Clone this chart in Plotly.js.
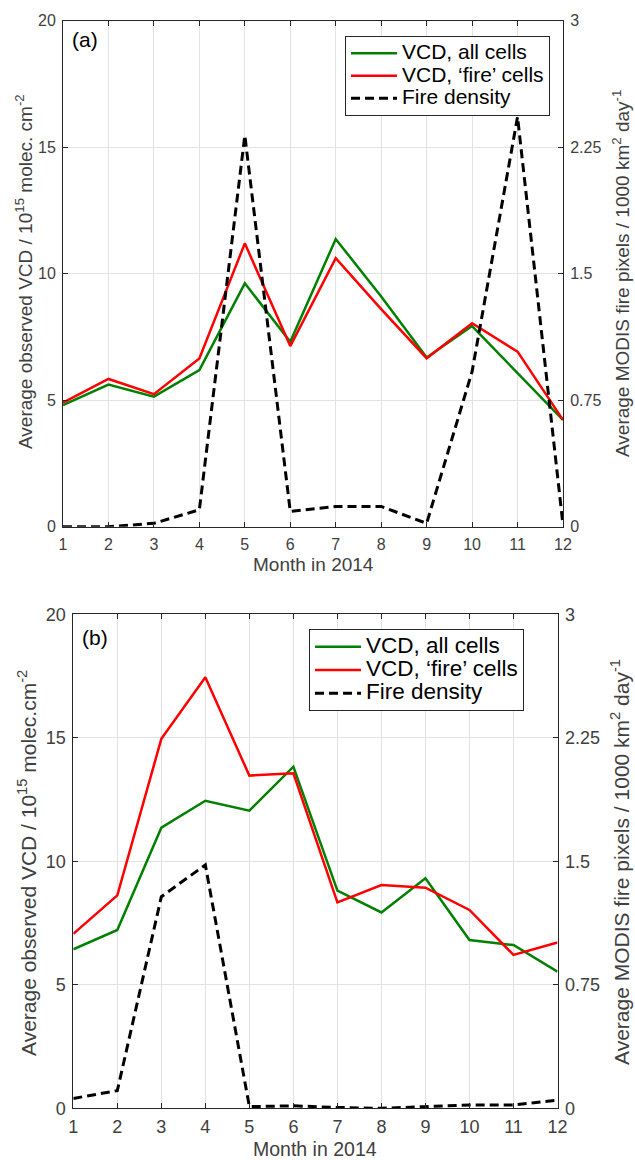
<!DOCTYPE html>
<html>
<head>
<meta charset="utf-8">
<script src="https://cdn.plot.ly/plotly-3.0.1.min.js"></script>
<style>html,body{margin:0;padding:0;background:#fff}</style>
</head>
<body>
<div id="chart" style="width:635px;height:1160px"></div>
<script>
// ---- data ----
const months = [1, 2, 3, 4, 5, 6, 7, 8, 9, 10, 11, 12];

// Panel (a)
const aVcdAll  = [4.81, 5.62, 5.14, 6.19, 9.62, 7.31, 11.37, 9.1, 6.69, 7.93, 6.07, 4.22];
const aVcdFire = [4.90, 5.84, 5.24, 6.65, 11.2, 7.14, 10.61, 8.6, 6.66, 8.04, 6.92, 4.22];
const aDensity = [0.0, 0.0, 0.02, 0.10, 2.32, 0.09, 0.12, 0.12, 0.02, 0.92, 2.43, 0.01];

// Panel (b)
const bVcdAll  = [6.44, 7.22, 11.36, 12.45, 12.05, 13.83, 8.81, 7.93, 9.31, 6.81, 6.61, 5.53];
const bVcdFire = [7.06, 8.62, 14.96, 17.45, 13.47, 13.56, 8.34, 9.04, 8.93, 8.03, 6.21, 6.71];
const bDensity = [0.06, 0.107, 1.285, 1.478, 0.01, 0.015, 0.005, 0.0, 0.01, 0.02, 0.02, 0.05];

const seriesNames = ["VCD, all cells", "VCD, \u2018fire\u2019 cells", "Fire density"];
const leftTicks = [0, 5, 10, 15, 20];
const rightTicks = [0, 0.75, 1.5, 2.25, 3];
const rightTickText = ["0", "0.75", "1.5", "2.25", "3"];
const xTitle = "Month in 2014";
const yTitleA = "Average observed VCD / 10<sup>15</sup> molec. cm<sup>-2</sup>";
const yTitleB = "Average observed VCD / 10<sup>15</sup> molec.cm<sup>-2</sup>";
const y2Title = "Average MODIS fire pixels / 1000 km<sup>2</sup> day<sup>-1</sup>";
const panelLabels = ["(a)", "(b)"];

// ---- styles ----
const FONT = "Liberation Sans, Arial, sans-serif";
const GREEN = "#008000", RED = "#ff0000";
const AX = "#262626", TXT = "#404040", GRID = "#e2e2e2";
const W = 635, H = 1160;

function px2x(p){ return p / W; }
function px2y(p){ return 1 - p / H; }
function sized(t, s){ return '<span style="font-size:' + s + 'px">' + t + '</span>'; }

function mk(y, name, color, xa, ya, legend, dash, width, fs){
  return {x: months, y: y, name: sized(name, fs), type: "scatter", mode: "lines",
    line: {color: color, width: width, dash: dash || "solid"},
    xaxis: xa, yaxis: ya, legend: legend, showlegend: true, hoverinfo: "skip"};
}

const data = [
  mk(aVcdAll,  seriesNames[0], GREEN, "x", "y", "legend", "solid", 2.5, 21),
  mk(aVcdFire, seriesNames[1], RED,   "x", "y", "legend", "solid", 2.5, 21),
  mk(aDensity, seriesNames[2], "#000", "x", "y2", "legend", "9px,5px", 3, 21),
  mk(bVcdAll,  seriesNames[0], GREEN, "x2", "y3", "legend2", "solid", 2.5, 22.5),
  mk(bVcdFire, seriesNames[1], RED,   "x2", "y3", "legend2", "solid", 2.5, 22.5),
  mk(bDensity, seriesNames[2], "#000", "x2", "y4", "legend2", "9px,5px", 3, 22.5)
];

function xAxis(domain, anchor, fs, standoff){
  return {domain: domain, anchor: anchor, range: [1, 12], tickmode: "array", tickvals: months,
    showgrid: true, gridcolor: GRID, gridwidth: 1, zeroline: false,
    showline: true, linecolor: AX, linewidth: 1, mirror: "ticks",
    ticks: "inside", ticklen: 5, tickcolor: AX, ticklabelstandoff: standoff,
    tickfont: {family: FONT, size: fs, color: TXT}};
}
function yLeft(domain, anchor, fs){
  return {domain: domain, anchor: anchor, range: [0, 20], tickmode: "array", tickvals: leftTicks,
    showgrid: true, gridcolor: GRID, gridwidth: 1, zeroline: false,
    showline: true, linecolor: AX, linewidth: 1,
    ticks: "inside", ticklen: 5, tickcolor: AX, ticklabelstandoff: 3,
    tickfont: {family: FONT, size: fs, color: TXT}};
}
function yRight(over, anchor, fs){
  return {overlaying: over, anchor: anchor, side: "right", range: [0, 3],
    tickmode: "array", tickvals: rightTicks, ticktext: rightTickText,
    showgrid: false, zeroline: false, showline: true, linecolor: AX, linewidth: 1,
    ticks: "inside", ticklen: 5, tickcolor: AX, ticklabelstandoff: 3,
    tickfont: {family: FONT, size: fs, color: TXT}};
}

const topX = [px2x(63), px2x(563)];
const topY = [px2y(526.7), px2y(20.7)];
const botX = [px2x(73.3), px2x(557.5)];
const botY = [px2y(1108.3), px2y(614.3)];

function ann(text, x, y, size, color, angle){
  return {text: text, x: px2x(x), y: px2y(y), xref: "paper", yref: "paper",
    showarrow: false, textangle: angle || 0, xanchor: "center", yanchor: "middle",
    font: {family: FONT, size: size, color: color}};
}

const layout = {
  width: W, height: H, margin: {l: 0, r: 0, t: 0, b: 0},
  paper_bgcolor: "#fff", plot_bgcolor: "#fff",
  xaxis: xAxis(topX, "y", 16, 3),
  yaxis: yLeft(topY, "x", 16),
  yaxis2: yRight("y", "x", 16),
  xaxis2: xAxis(botX, "y3", 18, 2),
  yaxis3: yLeft(botY, "x2", 18),
  yaxis4: yRight("y3", "x2", 18),
  legend: {x: px2x(345), y: px2y(36), xanchor: "left", yanchor: "top",
    bgcolor: "#fff", bordercolor: AX, borderwidth: 1,
    font: {family: FONT, size: 15, color: "#000"}, tracegroupgap: 0, itemwidth: 46},
  legend2: {x: px2x(309), y: px2y(629.3), xanchor: "left", yanchor: "top",
    bgcolor: "#fff", bordercolor: AX, borderwidth: 1,
    font: {family: FONT, size: 15.5, color: "#000"}, tracegroupgap: 0, itemwidth: 46},
  annotations: [
    ann(panelLabels[0], 85, 40, 21, "#000"),
    ann(panelLabels[1], 95, 637, 21, "#000"),
    ann(xTitle, 313, 565, 19, TXT),
    ann(xTitle, 315, 1149, 19.5, TXT),
    ann(yTitleA, 24, 272, 19, TXT, -90),
    ann(yTitleB, 27, 863, 21, TXT, -90),
    ann(y2Title, 621, 274, 19, TXT, -90),
    ann(y2Title, 620, 862, 21, TXT, -90)
  ]
};

Plotly.newPlot("chart", data, layout, {displayModeBar: false, staticPlot: true});
</script>
</body>
</html>
